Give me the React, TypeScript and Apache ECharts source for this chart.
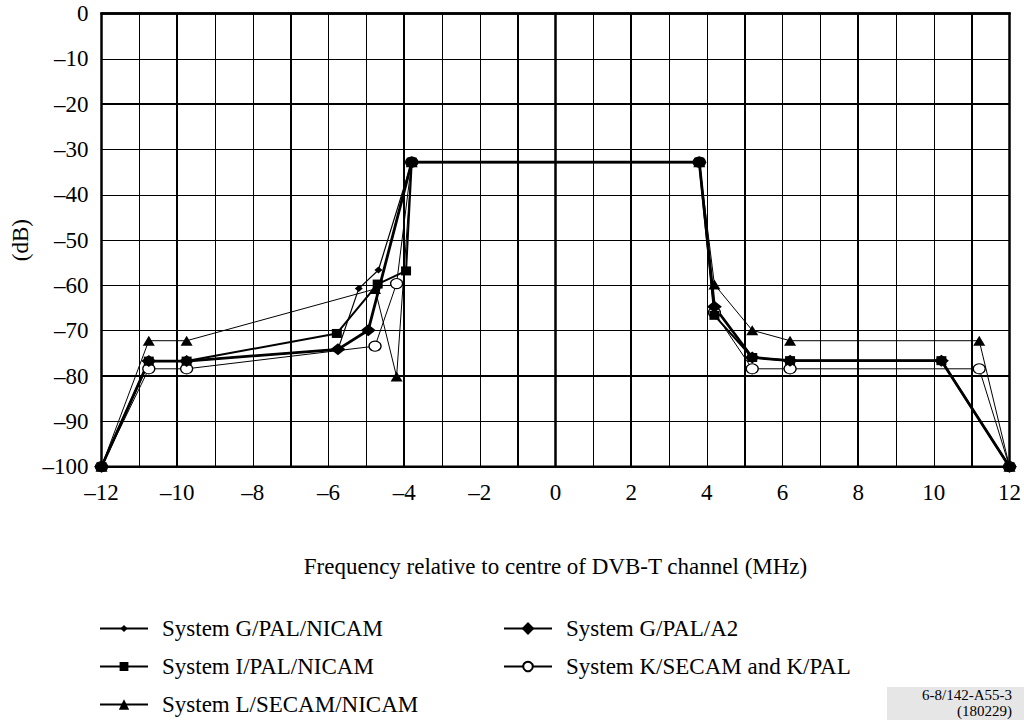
import React, { useEffect, useRef } from 'react';
import * as echarts from 'echarts';

// Breakpoints [frequency MHz, level dB]
const gPalNicam: [number, number][] = [
  [-12, -100], [-10.75, -76.7], [-9.75, -76.7], [-5.75, -74.1], [-5.2, -60.7], [-4.68, -56.6],
  [-3.8, -32.8], [3.8, -32.8], [4.2, -64.7], [5.2, -75.9], [6.2, -76.6], [10.2, -76.6], [12, -100],
];
const gPalA2: [number, number][] = [
  [-12, -100], [-10.75, -76.7], [-9.75, -76.7], [-5.75, -74.1], [-4.95, -69.9],
  [-3.8, -32.8], [3.8, -32.8], [4.2, -64.7], [5.2, -75.9], [6.2, -76.6], [10.2, -76.6], [12, -100],
];
const iPalNicam: [number, number][] = [
  [-12, -100], [-10.75, -76.7], [-9.75, -76.7], [-5.78, -70.6], [-4.7, -59.7], [-3.95, -56.8],
  [-3.8, -32.8], [3.8, -32.8], [4.2, -66.6], [5.2, -75.9], [6.2, -76.6], [10.2, -76.6], [12, -100],
];
const kSecamPal: [number, number][] = [
  [-12, -100], [-10.75, -78.4], [-9.75, -78.4], [-4.77, -73.4], [-4.2, -59.6],
  [-3.8, -32.8], [3.8, -32.8], [4.2, -66.0], [5.2, -78.4], [6.2, -78.4], [11.2, -78.4], [12, -100],
];
const lSecamNicam: [number, number][] = [
  [-12, -100], [-10.75, -72.2], [-9.75, -72.2], [-4.77, -60.8], [-4.2, -80.1],
  [-3.8, -32.8], [3.8, -32.8], [4.2, -59.8], [5.2, -69.9], [6.2, -72.2], [11.2, -72.2], [12, -100],
];

const seriesNames = [
  'System G/PAL/NICAM',
  'System G/PAL/A2',
  'System I/PAL/NICAM',
  'System K/SECAM and K/PAL',
  'System L/SECAM/NICAM',
];

const heavyGridX = [-10, -7, -4, -1, 2, 5, 8, 11];
const heavyGridY = [-80, -20];

const xTitle = 'Frequency relative to centre of DVB-T channel (MHz)';
const yTitle = '(dB)';
const figureRef = ['6-8/142-A55-3', '(180229)'];

const SERIF = '"Liberation Serif", "Times New Roman", serif';
const fmt = (v: number) => (v < 0 ? '\u2013' + Math.abs(v) : String(v));

export default function App() {
  const ref = useRef<HTMLDivElement>(null);
  useEffect(() => {
    const chart = echarts.init(ref.current!, undefined, { renderer: 'svg' });
    const black = '#000';
    const mk = (name: string, data: [number, number][], symbol: string, size: number[], width: number, extra: any = {}) => ({
      name,
      type: 'line',
      data,
      symbol,
      symbolSize: size,
      showAllSymbol: true,
      clip: false,
      lineStyle: { color: black, width },
      itemStyle: { color: black },
      z: 5,
      ...extra,
    });
    const legendItem = (name: string, left: number, top: number, itemHeight: number) => ({
      data: [name],
      left,
      top,
      orient: 'vertical',
      itemWidth: 48,
      itemHeight,
      selectedMode: false,
      textStyle: { fontFamily: SERIF, fontSize: 23, color: black, padding: [0, 0, 0, 9] },
    });
    chart.setOption({
      animation: false,
      backgroundColor: '#fff',
      grid: { left: 101.5, right: 13, top: 13.5, bottom: 253.3, show: true, borderColor: black, borderWidth: 2.5 },
      xAxis: {
        type: 'value',
        min: -12,
        max: 12,
        interval: 1,
        axisLine: { show: true, lineStyle: { color: black, width: 2.5 } },
        axisTick: { show: false },
        axisLabel: {
          color: black,
          fontFamily: SERIF,
          fontSize: 23,
          margin: 14,
          formatter: (v: number) => (Math.round(v) % 2 === 0 ? fmt(v) : ''),
        },
        splitLine: { show: true, lineStyle: { color: black, width: 1 } },
        name: xTitle,
        nameLocation: 'middle',
        nameGap: 88,
        nameTextStyle: { color: black, fontFamily: SERIF, fontSize: 23 },
      },
      yAxis: {
        type: 'value',
        min: -100,
        max: 0,
        interval: 10,
        axisLine: { show: true, lineStyle: { color: black, width: 2.5 } },
        axisTick: { show: false },
        axisLabel: { color: black, fontFamily: SERIF, fontSize: 23, margin: 13, formatter: (v: number) => fmt(v) },
        splitLine: { show: true, lineStyle: { color: black, width: 1 } },
        name: yTitle,
        nameLocation: 'middle',
        nameGap: 70,
        nameTextStyle: { color: black, fontFamily: SERIF, fontSize: 23 },
      },
      legend: [
        legendItem(seriesNames[0], 94, 612, 9),
        legendItem(seriesNames[2], 94, 650, 11),
        legendItem(seriesNames[4], 94, 688, 13),
        legendItem(seriesNames[1], 498, 612, 16),
        legendItem(seriesNames[3], 498, 650, 12),
      ],
      series: [
        {
          name: 'grid-heavy',
          type: 'line',
          data: [],
          z: 1,
          markLine: {
            silent: true,
            symbol: 'none',
            label: { show: false },
            lineStyle: { color: black, width: 2, type: 'solid' },
            data: [...heavyGridX.map((x) => ({ xAxis: x })), ...heavyGridY.map((y) => ({ yAxis: y }))],
          },
        },
        mk(seriesNames[4], lSecamNicam, 'triangle', [12, 10], 1),
        mk(seriesNames[3], kSecamPal, 'circle', [12, 10], 1, {
          itemStyle: { color: '#fff', borderColor: black, borderWidth: 1.2 },
        }),
        mk(seriesNames[2], iPalNicam, 'rect', [10, 9], 2),
        mk(seriesNames[1], gPalA2, 'diamond', [15, 12], 2.8),
        mk(seriesNames[0], gPalNicam, 'diamond', [8, 7], 1.2),
      ],
      graphic: [
        { type: 'rect', left: 887, top: 687, shape: { width: 137, height: 33 }, style: { fill: '#e6e6e6' }, z: 0 },
        {
          type: 'text',
          x: 1012,
          y: 687,
          z: 1,
          style: {
            text: figureRef[0],
            font: `15px ${SERIF}`,
            lineHeight: 15,
            fill: black,
            align: 'right',
            verticalAlign: 'top',
          },
        },
        {
          type: 'text',
          x: 1012,
          y: 703,
          z: 1,
          style: {
            text: figureRef[1],
            font: `15px ${SERIF}`,
            lineHeight: 15,
            fill: black,
            align: 'right',
            verticalAlign: 'top',
          },
        },
      ],
    });
    return () => chart.dispose();
  }, []);
  return (
    <div
      ref={ref}
      style={{ position: 'absolute', left: 0, top: 0, width: 1024, height: 720, background: '#fff' }}
    />
  );
}
